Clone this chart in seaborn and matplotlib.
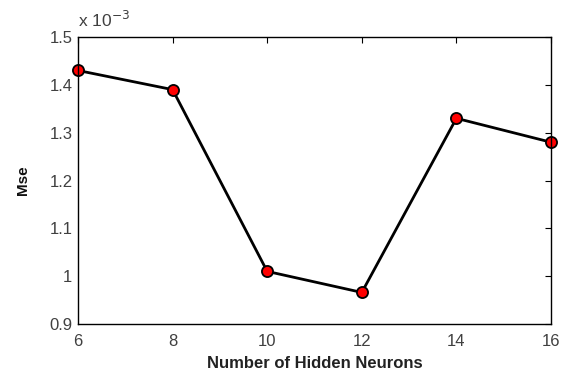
import matplotlib
matplotlib.use("Agg")
import matplotlib.pyplot as plt
import seaborn as sns
import pandas as pd
from matplotlib.ticker import FuncFormatter

neurons = [6, 8, 10, 12, 14, 16]
mse = [1.43e-3, 1.39e-3, 1.01e-3, 0.966e-3, 1.33e-3, 1.28e-3]
yticks = [0.9e-3, 1.0e-3, 1.1e-3, 1.2e-3, 1.3e-3, 1.4e-3, 1.5e-3]
xticks = [6, 8, 10, 12, 14, 16]

sns.set_style("white")
plt.rcParams['font.family'] = ['Liberation Sans', 'DejaVu Sans']

df = pd.DataFrame({"Number of Hidden Neurons": neurons, "Mse": mse})

fig = plt.figure(figsize=(5.63, 3.73), dpi=100)
ax = fig.add_axes([78/563, 1 - 324/373, (551-78)/563, (324-37)/373])
sns.lineplot(data=df, x="Number of Hidden Neurons", y="Mse", ax=ax,
             color="black", linewidth=2.0, marker="o", markersize=8,
             markerfacecolor="red", markeredgecolor="black", markeredgewidth=1.3)
for ln in ax.lines:
    ln.set_clip_on(False)

ax.set_xlim(6, 16)
ax.set_ylim(0.9e-3, 1.5e-3)
ax.set_xticks(xticks)
ax.set_yticks(yticks)
ax.yaxis.set_major_formatter(FuncFormatter(lambda v, p: f"{v*1e3:g}"))
ax.tick_params(direction="in", top=True, right=True, length=4, width=0.8,
               labelsize=12, labelcolor="#404040", color="black")
ax.tick_params(axis="x", pad=7)
ax.tick_params(axis="y", pad=4)
for s in ax.spines.values():
    s.set_color("black")
    s.set_linewidth(1.0)
ax.set_xlabel("Number of Hidden Neurons", fontsize=12, fontweight="bold", labelpad=5,
              color="#222222")
ax.set_ylabel("Mse", fontsize=11, fontweight="bold", labelpad=14, color="#111111")
ax.text(0.0, 1.025, r"x 10$^{-3}$", transform=ax.transAxes, fontsize=12.5,
        color="#404040", ha="left", va="bottom")

fig.savefig("out.png", dpi=100, facecolor="white")
